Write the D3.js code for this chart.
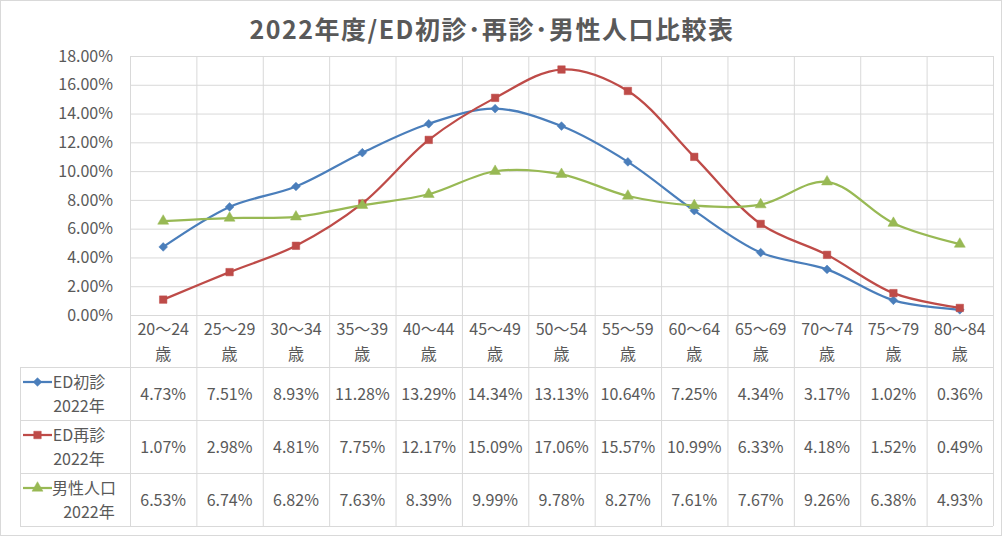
<!DOCTYPE html>
<html>
<head>
<meta charset="utf-8">
<script src="https://cdn.jsdelivr.net/npm/d3@7"></script>
<style>
  body { margin: 0; background: #fff; }
  svg text { font-family: "Noto Sans CJK JP", "Noto Sans", sans-serif; fill: #595959; }
</style>
</head>
<body>
<svg width="1002" height="536"></svg>
<script>
// データ
var categories = ["20～24", "25～29", "30～34", "35～39", "40～44", "45～49", "50～54",
                  "55～59", "60～64", "65～69", "70～74", "75～79", "80～84"];
var edFirst  = [4.73, 7.51, 8.93, 11.28, 13.29, 14.34, 13.13, 10.64, 7.25, 4.34, 3.17, 1.02, 0.36];
var edRepeat = [1.07, 2.98, 4.81, 7.75, 12.17, 15.09, 17.06, 15.57, 10.99, 6.33, 4.18, 1.52, 0.49];
var malePop  = [6.53, 6.74, 6.82, 7.63, 8.39, 9.99, 9.78, 8.27, 7.61, 7.67, 9.26, 6.38, 4.93];
var yTicks = [0, 2, 4, 6, 8, 10, 12, 14, 16, 18];

// ひし形は正方形を45度回転させる
var series = [
  {name: ["ED初診", "2022年"], values: edFirst, color: "#4a7ebb", marker: d3.symbolSquare, size: 38, rot: 45},
  {name: ["ED再診", "2022年"], values: edRepeat, color: "#be4b48", marker: d3.symbolSquare, size: 56, rot: 0},
  {name: ["男性人口", "2022年"], values: malePop, color: "#98b954", marker: d3.symbolTriangle, size: 52, rot: 0}
];

var svg = d3.select("svg"),
    plotLeft = 130, plotRight = 993, plotTop = 56, plotBottom = 315,
    rowH = 53, tableTop = 367, tableLeft = 20;

var grid = "#d9d9d9";

// 外枠
svg.append("rect").attr("x", 0.5).attr("y", 0.5).attr("width", 1001).attr("height", 535)
  .attr("fill", "#fff").attr("stroke", grid);

// タイトル
svg.append("text").attr("x", 492).attr("y", 39).attr("text-anchor", "middle")
  .style("font-size", "25px").style("font-weight", "bold").style("letter-spacing", "1.5px")
  .text("2022年度/ED初診･再診･男性人口比較表");

var x = d3.scaleBand().domain(categories).range([plotLeft, plotRight]).padding(0);
var y = d3.scaleLinear().domain([0, 18]).range([plotBottom, plotTop]);
var cx = function(c) { return x(c) + x.bandwidth() / 2; };

// y軸と横グリッド
var yAxis = svg.append("g").attr("transform", "translate(" + plotLeft + ",0)")
  .call(d3.axisLeft(y).tickValues(yTicks).tickSize(-(plotRight - plotLeft)).tickPadding(17)
    .tickFormat(function(d) { return d.toFixed(2) + "%"; }));
yAxis.select(".domain").remove();
yAxis.selectAll("line").attr("stroke", grid);
yAxis.selectAll("text").style("font-size", "16px").style("font-family", "\"Noto Sans CJK JP\"").attr("fill", "#595959");

// 縦グリッド (表まで)
var edges = categories.map(function(c) { return x(c); }).concat([plotRight]);
svg.append("g").selectAll("line").data(edges).enter().append("line")
  .attr("x1", function(d) { return d + 0.5; }).attr("x2", function(d) { return d + 0.5; })
  .attr("y1", plotTop).attr("y2", tableTop + rowH * 3)
  .attr("stroke", grid);

// 表の横線
var hLines = [0, 1, 2, 3].map(function(i) { return tableTop + rowH * i; });
svg.append("g").selectAll("line").data(hLines).enter().append("line")
  .attr("x1", tableLeft).attr("x2", plotRight)
  .attr("y1", function(d) { return d + 0.5; }).attr("y2", function(d) { return d + 0.5; })
  .attr("stroke", grid);
svg.append("line").attr("x1", tableLeft + 0.5).attr("x2", tableLeft + 0.5)
  .attr("y1", tableTop).attr("y2", tableTop + rowH * 3).attr("stroke", grid);

// カテゴリーラベル
var catG = svg.append("g").selectAll("text").data(categories).enter().append("text")
  .attr("text-anchor", "middle").style("font-size", "16px");
catG.append("tspan").attr("x", cx).attr("y", 335).text(function(d) { return d; });
catG.append("tspan").attr("x", cx).attr("y", 360).text("歳");

// 線
var line = d3.line()
  .x(function(d, i) { return cx(categories[i]); })
  .y(function(d) { return y(d); })
  .curve(d3.curveCatmullRom.alpha(0.5));

series.forEach(function(s, si) {
  svg.append("path").datum(s.values)
    .attr("d", line).attr("fill", "none")
    .attr("stroke", s.color).attr("stroke-width", 2.25);

  svg.append("g").selectAll("path").data(s.values).enter().append("path")
    .attr("transform", function(d, i) {
      return "translate(" + cx(categories[i]) + "," + y(d) + ") rotate(" + s.rot + ")";
    })
    .attr("d", d3.symbol().type(s.marker).size(s.size))
    .attr("fill", s.color).attr("stroke", s.color).attr("stroke-width", 0.5);

  // 表の行
  var rowTop = tableTop + rowH * si;
  svg.append("g").selectAll("text").data(s.values).enter().append("text")
    .attr("x", function(d, i) { return cx(categories[i]); })
    .attr("y", rowTop + rowH / 2 + 6)
    .attr("text-anchor", "middle").style("font-size", "16px")
    .text(function(d) { return d.toFixed(2) + "%"; });

  // 凡例キー
  var ky = rowTop + 15;
  svg.append("line").attr("x1", 23).attr("x2", 52).attr("y1", ky).attr("y2", ky)
    .attr("stroke", s.color).attr("stroke-width", 2.25);
  svg.append("path").attr("transform", "translate(37.5," + ky + ") rotate(" + s.rot + ")")
    .attr("d", d3.symbol().type(s.marker).size(s.size))
    .attr("fill", s.color).attr("stroke", s.color).attr("stroke-width", 0.5);

  var lt = svg.append("text").attr("text-anchor", "middle").style("font-size", "16px");
  lt.append("tspan").attr("x", si == 2 ? 84 : 79).attr("y", rowTop + 21).text(s.name[0]);
  lt.append("tspan").attr("x", si == 2 ? 89 : 79).attr("y", rowTop + 45).text(s.name[1]);
});
</script>
</body>
</html>
